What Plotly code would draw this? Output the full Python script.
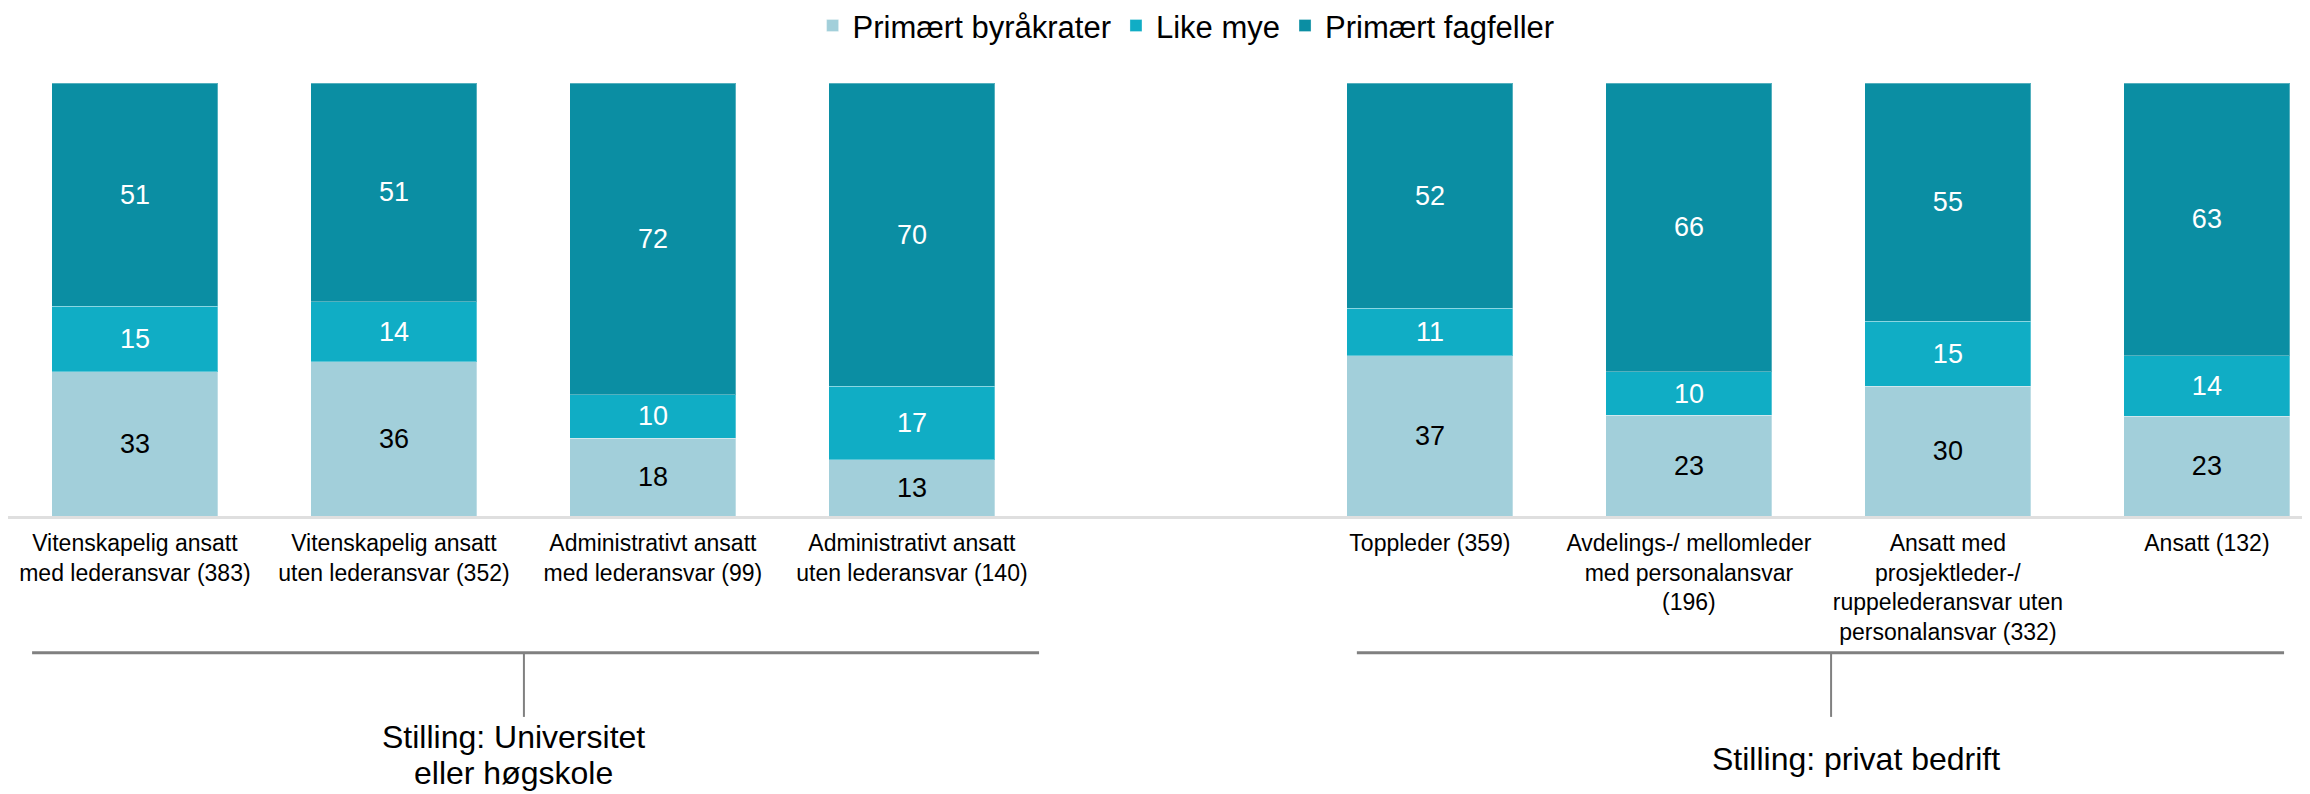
import plotly.graph_objects as go

# Kategorier (tom plass mellom de to gruppene)
categories = [
    "Vitenskapelig ansatt<br>med lederansvar (383)",
    "Vitenskapelig ansatt<br>uten lederansvar (352)",
    "Administrativt ansatt<br>med lederansvar (99)",
    "Administrativt ansatt<br>uten lederansvar (140)",
    " ",
    "Toppleder (359)",
    "Avdelings-/ mellomleder<br>med personalansvar<br>(196)",
    "Ansatt med<br>prosjektleder-/<br>ruppelederansvar uten<br>personalansvar (332)",
    "Ansatt (132)",
]

byrakrater = [33, 36, 18, 13, None, 37, 23, 30, 23]
like_mye = [15, 14, 10, 17, None, 11, 10, 15, 14]
fagfeller = [51, 51, 72, 70, None, 52, 66, 55, 63]

series_names = ["Primært byråkrater", "Like mye", "Primært fagfeller"]
group_labels = ["Stilling: Universitet", "eller høgskole", "Stilling: privat bedrift"]

FONT = "Liberation Sans, Arial, sans-serif"
COLORS = ["#A2CFDA", "#10ADC5", "#0B8EA3"]
TEXT_COLORS = ["black", "white", "white"]

fig = go.Figure()
for name, vals, color, tcol in zip(series_names, [byrakrater, like_mye, fagfeller], COLORS, TEXT_COLORS):
    fig.add_trace(go.Bar(
        x=categories,
        y=vals,
        name=name,
        marker=dict(color=color, line=dict(width=1, color="rgba(255,255,255,0.3)")),
        text=vals,
        texttemplate="%{text}",
        textposition="inside",
        insidetextanchor="middle",
        textangle=0,
        textfont=dict(family=FONT, size=27, color=tcol),
        hoverinfo="x+y+name",
    ))

# siden legges med 8px body-marg, så marger/område er kompensert for det
fig.update_layout(
    width=2310,
    height=794,
    barmode="stack",
    barnorm="percent",
    bargap=0.359,
    paper_bgcolor="white",
    plot_bgcolor="white",
    margin=dict(l=0, r=0, t=75, b=286, autoexpand=False),
    font=dict(family=FONT, color="black"),
    legend=dict(
        orientation="h",
        x=0.51,
        xanchor="center",
        y=1.132,
        yanchor="middle",
        font=dict(family=FONT, size=31),
        traceorder="normal",
    ),
    xaxis=dict(
        type="category",
        range=[-0.49, 8.429],
        automargin=False,
        showline=True,
        linecolor="#DFDFDF",
        linewidth=3,
        showgrid=False,
        ticks="",
        tickfont=dict(family=FONT, size=23, color="black"),
        ticklabelstandoff=4,
        fixedrange=True,
    ),
    yaxis=dict(
        range=[0, 100],
        visible=False,
        automargin=False,
        fixedrange=True,
    ),
)

# Gruppeklammer under aksen
line_gray = "#808080"
brackets = [
    (-0.397, 3.491, 1.502),
    (4.718, 8.298, 6.549),
]
for x0, x1, xm in brackets:
    fig.add_shape(type="line", xref="x", yref="paper", x0=x0, x1=x1, y0=-0.316, y1=-0.316,
                  line=dict(color=line_gray, width=3))
    fig.add_shape(type="line", xref="x", yref="paper", x0=xm, x1=xm, y0=-0.316, y1=-0.464,
                  line=dict(color=line_gray, width=2))

fig.add_annotation(x=1.46, y=-0.51, xref="x", yref="paper", text=group_labels[0],
                   showarrow=False, yanchor="middle", font=dict(family=FONT, size=32))
fig.add_annotation(x=1.46, y=-0.594, xref="x", yref="paper", text=group_labels[1],
                   showarrow=False, yanchor="middle", font=dict(family=FONT, size=32))
fig.add_annotation(x=6.645, y=-0.561, xref="x", yref="paper", text=group_labels[2],
                   showarrow=False, yanchor="middle", font=dict(family=FONT, size=32))

fig.write_html("out.html")
